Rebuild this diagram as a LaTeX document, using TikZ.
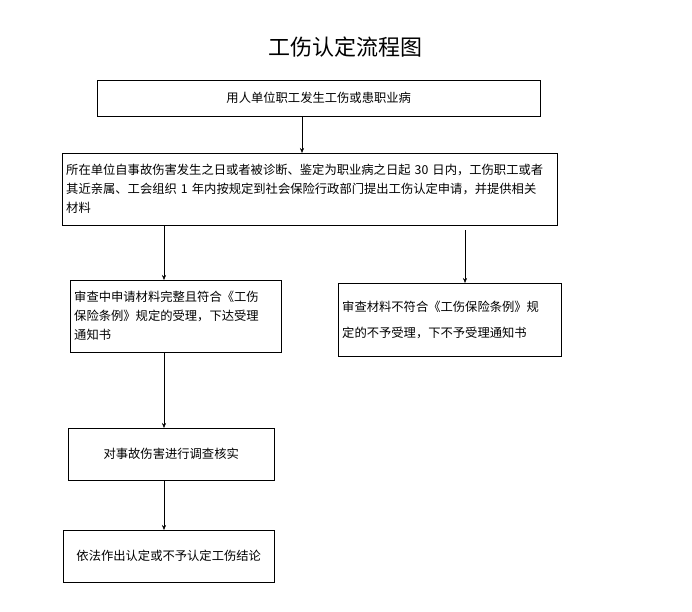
\documentclass[tikz,border=0pt]{standalone}
\usepackage{fontspec}
\newfontfamily\cjk{Noto Sans CJK SC}
\usetikzlibrary{positioning, arrows.meta}

\begin{document}
\begin{tikzpicture}[
        x=1pt, y=-1pt,
        every node/.style={font=\cjk\fontsize{12.3}{19}\selectfont},
        box/.style={rectangle, draw, thin, align=left, inner sep=4pt, anchor=north west},
        arrow/.style={-{Stealth[length=5pt,width=4pt]}, thin}
    ]
    \useasboundingbox (0,0) rectangle (692,611);

    \node[font=\cjk\fontsize{22}{24}\selectfont] (title) at (345,47) {工伤认定流程图};

    \node[box, minimum width=443pt, minimum height=36pt, align=center] (apply) at (97,80) {用人单位职工发生工伤或患职业病};
    \node[box, text width=487pt, minimum height=72pt] (submit) at (62,153)
        {所在单位自事故伤害发生之日或者被诊断、鉴定为职业病之日起 30 日内，工伤职工或者\\其近亲属、工会组织 1 年内按规定到社会保险行政部门提出工伤认定申请，并提供相关\\材料};
    \node[box, text width=203pt, minimum height=72pt] (accept) at (70,280)
        {审查中申请材料完整且符合《工伤\\保险条例》规定的受理，下达受理\\通知书};
    \node[box, text width=215pt, minimum height=73pt, font=\cjk\fontsize{12.3}{26}\selectfont] (reject) at (338,283)
        {审查材料不符合《工伤保险条例》规\\定的不予受理，下不予受理通知书};
    \node[box, minimum width=206pt, minimum height=52pt, align=center] (verify) at (68,428) {对事故伤害进行调查核实};
    \node[box, minimum width=211pt, minimum height=52pt, align=center] (result) at (63,530) {依法作出认定或不予认定工伤结论};

    \draw[arrow] (apply.south -| 302,0) -- (submit.north -| 302,0);
    \draw[arrow] (submit.south -| 164,0) -- (accept.north -| 164,0);
    \draw[arrow] ([yshift=-5pt]submit.south -| 465,0) -- (reject.north -| 465,0);
    \draw[arrow] (accept.south -| 164,0) -- (verify.north -| 164,0);
    \draw[arrow] (verify.south -| 164,0) -- (result.north -| 164,0);

\end{tikzpicture}
\end{document}
